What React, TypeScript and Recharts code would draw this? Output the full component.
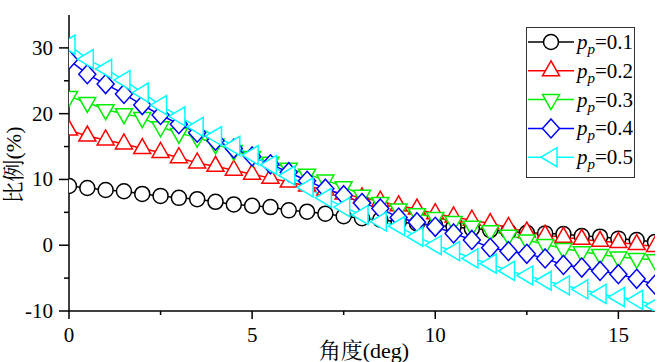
import React from 'react';
import { LineChart, Line, XAxis, YAxis, Legend } from 'recharts';

const angles = [0, 0.5, 1, 1.5, 2, 2.5, 3, 3.5, 4, 4.5, 5, 5.5, 6, 6.5, 7, 7.5, 8, 8.5, 9, 9.5, 10, 10.5, 11, 11.5, 12, 12.5, 13, 13.5, 14, 14.5, 15, 15.5, 16];

const pp01 = [9.0, 8.7, 8.4, 8.2, 7.8, 7.5, 7.2, 7.0, 6.6, 6.2, 6.0, 5.8, 5.3, 5.1, 4.8, 4.4, 4.1, 3.9, 3.5, 3.3, 3.0, 2.8, 2.5, 2.3, 2.1, 1.9, 1.8, 1.7, 1.4, 1.3, 1.0, 0.8, 0.5];
const pp02 = [17.5, 16.6, 16.0, 15.4, 14.7, 14.1, 13.3, 12.5, 12.0, 11.4, 10.8, 10.2, 9.6, 9.0, 8.4, 7.8, 7.2, 6.7, 6.0, 5.5, 4.8, 4.3, 3.8, 3.3, 2.7, 2.0, 1.5, 1.2, 0.9, 0.6, 0.4, 0.1, -0.2];
const pp03 = [22.6, 21.7, 20.6, 20.0, 19.4, 18.0, 17.0, 16.4, 15.4, 14.4, 13.5, 12.6, 11.7, 10.8, 9.9, 8.9, 7.6, 6.5, 5.5, 4.8, 4.2, 3.6, 2.9, 2.2, 1.5, 0.8, 0.1, -0.5, -1.0, -1.4, -1.8, -2.0, -2.2];
const pp04 = [28.2, 26.0, 24.5, 23.0, 21.3, 19.8, 18.4, 17.1, 15.9, 14.7, 13.5, 12.3, 11.1, 9.8, 8.6, 7.6, 6.4, 5.6, 4.2, 3.5, 2.8, 1.8, 0.8, -0.4, -0.9, -1.3, -2.0, -3.0, -3.4, -3.9, -4.4, -5.1, -6.0];
const pp05 = [30.5, 28.3, 26.8, 25.1, 23.2, 21.3, 19.6, 18.0, 16.6, 15.1, 13.7, 12.2, 10.6, 8.8, 7.2, 5.8, 4.6, 3.6, 2.9, 1.3, 0.0, -0.9, -2.0, -2.8, -3.9, -4.6, -5.4, -6.1, -6.7, -7.4, -7.9, -8.3, -9.2];

const seriesLabels = ['0.1', '0.2', '0.3', '0.4', '0.5'];
const seriesKeys = ['s1', 's2', 's3', 's4', 's5'];
const seriesValues = [pp01, pp02, pp03, pp04, pp05];
const seriesColors = ['#000000', '#ff0000', '#00ee00', '#0000ff', '#00ffff'];
const seriesShapes = ['circle', 'up', 'down', 'diamond', 'left'];

const xTicks = [0, 2.5, 5, 7.5, 10, 12.5, 15];
const yTicks = [-10, -5, 0, 5, 10, 15, 20, 25, 30, 35];

const xLabel = '角度(deg)';
const yLabel = '比例(%)';

const data = angles.map((a, i) => {
  const row: any = { angle: a };
  seriesKeys.forEach((k, j) => { row[k] = seriesValues[j][i]; });
  return row;
});

const FONT = '"Liberation Serif", "DejaVu Serif", serif';
const CJK = '"Liberation Serif", "Noto Serif CJK SC", "Noto Sans CJK SC", serif';

function Marker({ cx, cy, shape, color }: any) {
  if (cx == null || cy == null) return null;
  const common = { fill: '#ffffff', stroke: color, strokeWidth: 1.5 };
  if (shape === 'circle') return <circle cx={cx} cy={cy} r={7.5} {...common} />;
  if (shape === 'up') return <polygon points={`${cx},${cy - 10} ${cx - 8.5},${cy + 5} ${cx + 8.5},${cy + 5}`} {...common} />;
  if (shape === 'down') return <polygon points={`${cx},${cy + 10} ${cx - 8.5},${cy - 5} ${cx + 8.5},${cy - 5}`} {...common} />;
  if (shape === 'diamond') return <polygon points={`${cx},${cy - 9.5} ${cx + 8.5},${cy} ${cx},${cy + 9.5} ${cx - 8.5},${cy}`} {...common} />;
  return <polygon points={`${cx - 10},${cy} ${cx + 6},${cy - 9.5} ${cx + 6},${cy + 9.5}`} {...common} />;
}

function BottomTick(props: any) {
  const { x, y, payload } = props;
  const major = payload.value % 5 === 0;
  return (
    <g>
      <line x1={x} x2={x} y1={y} y2={y + (major ? 8 : 4)} stroke="#000" strokeWidth={1.5} />
      {major && (
        <text x={x} y={y + 31} textAnchor="middle" fill="#000" style={{ fontFamily: FONT, fontSize: 21 }}>
          {payload.value}
        </text>
      )}
    </g>
  );
}

function TopTick(props: any) {
  const { x, y, payload } = props;
  const major = payload.value % 5 === 0;
  return <line x1={x} x2={x} y1={y} y2={y + (major ? 9 : 5)} stroke="#000" strokeWidth={1.5} />;
}

function LeftTick(props: any) {
  const { x, y, payload } = props;
  const major = payload.value % 10 === 0;
  if (payload.value === 35) return <g />;
  return (
    <g>
      <line x1={x - (major ? 10 : 5)} x2={x} y1={y} y2={y} stroke="#000" strokeWidth={1.5} />
      {major && (
        <text x={x - 16} y={y + 7} textAnchor="end" fill="#000" style={{ fontFamily: FONT, fontSize: 21 }}>
          {payload.value}
        </text>
      )}
    </g>
  );
}

function RightTick(props: any) {
  const { x, y, payload } = props;
  const major = payload.value % 10 === 0;
  if (payload.value === 35) return <g />;
  return <line x1={x - (major ? 7 : 4)} x2={x} y1={y} y2={y} stroke="#000" strokeWidth={1.5} />;
}

function XLabelEl() {
  return (
    <text x={364} y={358} textAnchor="middle" fill="#000" style={{ fontFamily: CJK, fontSize: 22 }}>
      {xLabel}
    </text>
  );
}

function YLabelEl() {
  return (
    <text transform="translate(21,165) rotate(-90)" textAnchor="middle" fill="#000" style={{ fontFamily: CJK, fontSize: 22 }}>
      {yLabel}
    </text>
  );
}

function LegendBox() {
  return (
    <div style={{ width: 109, height: 151, border: '1px solid #333', boxSizing: 'border-box', background: '#fff' }}>
      <svg width={107} height={149} style={{ display: 'block' }}>
        {seriesLabels.map((lab, i) => {
          const cy = 14 + i * 28.8;
          return (
            <g key={lab}>
              <line x1={1} x2={47} y1={cy} y2={cy} stroke={seriesColors[i]} strokeWidth={1.5} />
              <Marker cx={24} cy={cy} shape={seriesShapes[i]} color={seriesColors[i]} />
              <text x={50} y={cy + 7} fill="#000" style={{ fontFamily: FONT, fontSize: 21 }}>
                <tspan fontStyle="italic">p</tspan>
                <tspan fontStyle="italic" style={{ fontSize: 15 }} dy={5}>p</tspan>
                <tspan dy={-5}>{'=' + lab}</tspan>
              </text>
            </g>
          );
        })}
      </svg>
    </div>
  );
}

export default function App() {
  return (
    <div style={{ position: 'absolute', left: 0, top: 0, width: 672, height: 362, background: '#fff' }}>
      <LineChart width={672} height={362} data={data} margin={{ top: 15, right: 17, bottom: 0, left: 0 }}>
        <XAxis
          dataKey="angle"
          type="number"
          domain={[0, 16]}
          ticks={xTicks}
          interval={0}
          allowDataOverflow
          height={51}
          tickSize={0}
          tickMargin={0}
          tickLine={false}
          tick={(p: any) => <BottomTick {...p} />}
          axisLine={{ stroke: '#000', strokeWidth: 1.5 }}
          label={<XLabelEl />}
        />
        <XAxis
          xAxisId="top"
          orientation="top"
          type="number"
          domain={[0, 16]}
          ticks={xTicks}
          interval={0}
          allowDataOverflow
          height={0}
          tickSize={0}
          tickMargin={0}
          tickLine={false}
          tick={(p: any) => <TopTick {...p} />}
          axisLine={{ stroke: '#000', strokeWidth: 1.5 }}
        />
        <YAxis
          type="number"
          domain={[-10, 35]}
          ticks={yTicks}
          interval={0}
          allowDataOverflow
          width={69}
          tickSize={0}
          tickMargin={0}
          tickLine={false}
          tick={(p: any) => <LeftTick {...p} />}
          axisLine={{ stroke: '#000', strokeWidth: 1.5 }}
          label={<YLabelEl />}
        />
        <YAxis
          yAxisId="right"
          orientation="right"
          type="number"
          domain={[-10, 35]}
          ticks={yTicks}
          interval={0}
          allowDataOverflow
          width={0}
          tickSize={0}
          tickMargin={0}
          tickLine={false}
          tick={(p: any) => <RightTick {...p} />}
          axisLine={{ stroke: '#000', strokeWidth: 1.5 }}
        />
        {seriesKeys.map((k, i) => (
          <Line
            key={k}
            dataKey={k}
            type="linear"
            stroke={seriesColors[i]}
            strokeWidth={1.5}
            isAnimationActive={false}
            dot={(p: any) => <Marker key={`${k}-${p.index}`} cx={p.cx} cy={p.cy} shape={seriesShapes[i]} color={seriesColors[i]} />}
            activeDot={false}
          />
        ))}
        <Legend
          layout="vertical"
          align="center"
          verticalAlign="middle"
          content={() => <LegendBox />}
          wrapperStyle={{ position: 'absolute', left: 526, top: 27, width: 109, height: 151 }}
        />
      </LineChart>
    </div>
  );
}
